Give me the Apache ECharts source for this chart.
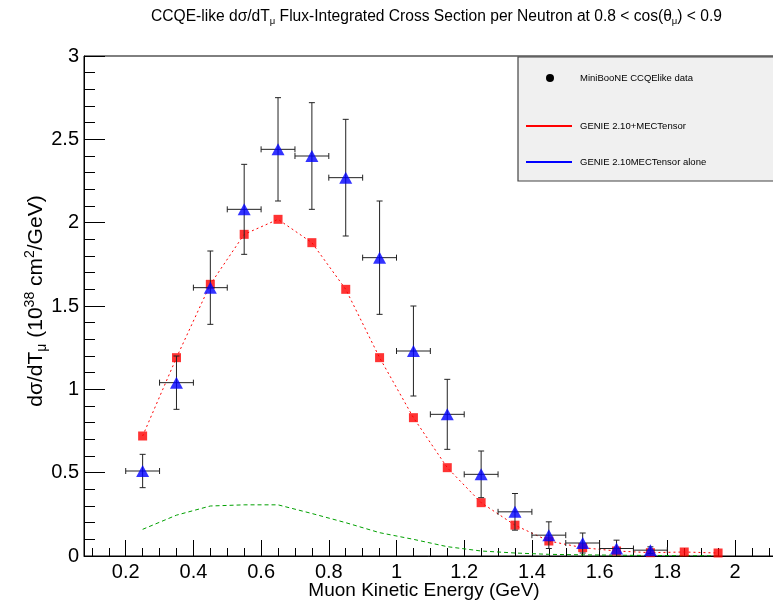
<!DOCTYPE html>
<html><head><meta charset="utf-8">
<script src="https://cdn.jsdelivr.net/npm/echarts@6/dist/echarts.min.js"></script>
<style>html,body{margin:0;padding:0;background:#fff}#c{width:773px;height:603px}</style>
</head><body><div id="c"></div>
<script>
// MiniBooNE data (blue triangles)
const dataX = [0.25,0.35,0.45,0.55,0.65,0.75,0.85,0.95,1.05,1.15,1.25,1.35,1.45,1.55,1.65,1.75];
const dataY = [0.51,1.04,1.61,2.08,2.44,2.40,2.27,1.79,1.23,0.85,0.49,0.265,0.125,0.078,0.045,0.035];
const dataErr = [0.10,0.16,0.22,0.27,0.31,0.32,0.35,0.34,0.27,0.21,0.14,0.11,0.08,0.06,0.05,0.02];
const dataXErr = 0.05;
// GENIE 2.10+MECTensor (red squares)
const genieX = [0.25,0.35,0.45,0.55,0.65,0.75,0.85,0.95,1.05,1.15,1.25,1.35,1.45,1.55,1.65,1.75,1.85,1.95];
const genieY = [0.72,1.19,1.63,1.93,2.02,1.88,1.60,1.19,0.83,0.53,0.32,0.185,0.09,0.05,0.03,0.02,0.024,0.018];
// MEC component (green dashed)
const mecY = [0.16,0.245,0.30,0.307,0.307,0.255,0.20,0.14,0.10,0.056,0.03,0.018,0.01,0.007,0.005,0.003,0.002,0.001];
// ticks
const xMajorTicks = [0.2,0.4,0.6,0.8,1,1.2,1.4,1.6,1.8,2];
const xMinorTicks = [];
for (let i = 2; i <= 42; i++) xMinorTicks.push(Math.round(i * 5) / 100);

const FONT = 'Liberation Sans';
const X_MIN = 0.0768, X_MAX = 2.1211;

const chart = echarts.init(document.getElementById('c'), null, {renderer: 'canvas'});

const errData = dataX.map((x, i) => [x, dataY[i], dataErr[i], dataXErr]);

function renderErr(params, api) {
  const x = api.value(0), y = api.value(1), e = api.value(2), h = api.value(3);
  const c = api.coord([x, y]);
  const t = api.coord([x, y + e]);
  const b = api.coord([x, y - e]);
  const l = api.coord([x - h, y]);
  const r = api.coord([x + h, y]);
  const cap = 3;
  const st = {stroke: '#222', lineWidth: 1};
  const ln = (x1, y1, x2, y2) => ({type: 'line', shape: {x1, y1, x2, y2}, style: st});
  return {type: 'group', children: [
    ln(c[0], t[1], c[0], b[1]),
    ln(c[0] - cap, t[1], c[0] + cap, t[1]),
    ln(c[0] - cap, b[1], c[0] + cap, b[1]),
    ln(l[0], c[1], r[0], c[1]),
    ln(l[0], c[1] - cap, l[0], c[1] + cap),
    ln(r[0], c[1] - cap, r[0], c[1] + cap)
  ]};
}

const option = {
  animation: false,
  backgroundColor: '#fff',
  title: {
    text: 'CCQE-like dσ/dT{s|μ} Flux-Integrated Cross Section per Neutron at 0.8 < cos(θ{s|μ}) < 0.9',
    left: 146, top: 3,
    textStyle: {fontSize: 15.6, fontWeight: 'normal', fontFamily: FONT, color: '#000',
      rich: {s: {fontSize: 9.5, fontFamily: FONT, color: '#000', padding: [8, 0, 0, 0]}}}
  },
  grid: {left: 84, top: 56, width: 692, height: 500, show: true, borderColor: '#000', borderWidth: 1,
         containLabel: false, outerBoundsMode: 'none'},
  xAxis: [{
    type: 'value', min: X_MIN, max: X_MAX, position: 'bottom',
    name: 'Muon Kinetic Energy (GeV)', nameLocation: 'middle', nameGap: 25, nameMoveOverlap: false,
    nameTextStyle: {fontSize: 19, fontFamily: FONT, color: '#000', padding: [0, 12, 0, 0]},
    axisLine: {show: true, lineStyle: {color: '#000', width: 1}},
    axisTick: {show: true, inside: true, length: 16, customValues: xMajorTicks, lineStyle: {color: '#000'}},
    axisLabel: {customValues: xMajorTicks, fontSize: 20, fontFamily: FONT, color: '#000', margin: 6},
    splitLine: {show: false}
  }, {
    type: 'value', min: X_MIN, max: X_MAX, position: 'bottom',
    axisLine: {show: false},
    axisTick: {show: true, inside: true, length: 8, customValues: xMinorTicks, lineStyle: {color: '#000'}},
    axisLabel: {show: false},
    splitLine: {show: false}
  }],
  yAxis: {
    type: 'value', min: 0, max: 3, interval: 0.5,
    name: 'dσ/dT{s|μ} (10{p|38} cm{p2|2}/GeV)', nameLocation: 'middle', nameGap: 35, nameMoveOverlap: false,
    nameTextStyle: {fontSize: 21, fontFamily: FONT, color: '#000', padding: [0, 0, 0, 10],
      rich: {
        s: {fontSize: 14, fontFamily: FONT, color: '#000', padding: [12, 0, 0, 0]},
        p: {fontSize: 14, fontFamily: FONT, color: '#000', padding: [0, 0, 12, 0]},
        p2: {fontSize: 14, fontFamily: FONT, color: '#000', padding: [0, 0, 12, 0]}
      }},
    axisLine: {show: true, lineStyle: {color: '#000', width: 1}},
    axisTick: {show: true, inside: true, length: 21, lineStyle: {color: '#000'}},
    minorTick: {show: true, splitNumber: 5, length: 11, lineStyle: {color: '#000'}},
    axisLabel: {fontSize: 20, fontFamily: FONT, color: '#000', margin: 5},
    splitLine: {show: false}
  },
  series: [
    {
      name: 'MEC', type: 'line', xAxisIndex: 0,
      data: genieX.map((x, i) => [x, mecY[i]]),
      showSymbol: false, symbol: 'none',
      lineStyle: {color: '#00a000', width: 1, type: [4, 3]}, z: 2
    },
    {
      name: 'GENIE 2.10+MECTensor line', type: 'line', xAxisIndex: 0,
      data: genieX.map((x, i) => [x, genieY[i]]),
      showSymbol: false, symbol: 'none',
      lineStyle: {color: '#ff0000', width: 1, type: [2, 3]}, z: 2
    },
    {
      name: 'GENIE 2.10+MECTensor', type: 'scatter', xAxisIndex: 0,
      data: genieX.map((x, i) => [x, genieY[i]]),
      symbol: 'rect', symbolSize: 9,
      itemStyle: {color: '#ff0000'}, z: 3
    },
    {
      name: 'errors', type: 'custom', xAxisIndex: 0,
      data: errData, renderItem: renderErr,
      encode: {x: 0, y: 1}, z: 4, clip: true
    },
    {
      name: 'MiniBooNE CCQElike data', type: 'scatter', xAxisIndex: 0,
      data: dataX.map((x, i) => [x, dataY[i]]),
      symbol: 'triangle', symbolSize: [13, 12],
      itemStyle: {color: '#0000ff'}, z: 5
    }
  ],
  graphic: [
    {type: 'rect', z: 100, shape: {x: 518, y: 57, width: 262, height: 124},
     style: {fill: '#f0f0f0', stroke: '#444', lineWidth: 1.2}},
    {type: 'circle', z: 101, shape: {cx: 550, cy: 78, r: 4}, style: {fill: '#000'}},
    {type: 'text', z: 101, x: 580, y: 78, style: {text: 'MiniBooNE CCQElike data', fontSize: 9.5, fontFamily: FONT, fill: '#000', verticalAlign: 'middle'}},
    {type: 'line', z: 101, shape: {x1: 526, y1: 126, x2: 572, y2: 126}, style: {stroke: '#ff0000', lineWidth: 2}},
    {type: 'text', z: 101, x: 580, y: 126, style: {text: 'GENIE 2.10+MECTensor', fontSize: 9.5, fontFamily: FONT, fill: '#000', verticalAlign: 'middle'}},
    {type: 'line', z: 101, shape: {x1: 526, y1: 162, x2: 572, y2: 162}, style: {stroke: '#0000ff', lineWidth: 2}},
    {type: 'text', z: 101, x: 580, y: 162, style: {text: 'GENIE 2.10MECTensor alone', fontSize: 9.5, fontFamily: FONT, fill: '#000', verticalAlign: 'middle'}}
  ]
};
chart.setOption(option);
</script>
</body></html>
